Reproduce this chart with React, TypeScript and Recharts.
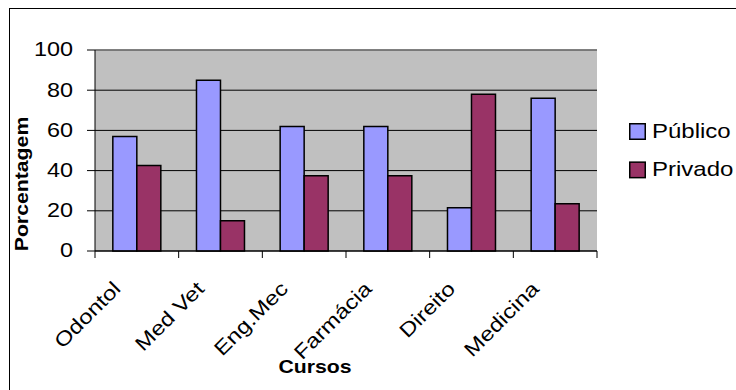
import React from "react";
import {
  BarChart,
  Bar,
  XAxis,
  YAxis,
  CartesianGrid,
  ReferenceLine,
  Legend,
  Label,
} from "recharts";

// Percentage of students by course and school origin
const CURSOS = ["Odontol", "Med Vet", "Eng.Mec", "Farmácia", "Direito", "Medicina"];
const PUBLICO = [57, 85, 62, 62, 21.5, 76];
const PRIVADO = [42.5, 15, 37.5, 37.5, 78, 23.5];
const Y_TICKS = [0, 20, 40, 60, 80, 100];

const SERIES = [
  { key: "publico", name: "Público", color: "#9999FF" },
  { key: "privado", name: "Privado", color: "#993366" },
];

const data = CURSOS.map((curso, i) => ({
  curso,
  publico: PUBLICO[i],
  privado: PRIVADO[i],
}));

const W = 736;
const H = 390;
const MARGIN = { top: 50, right: 139, bottom: 0, left: 0 };
const Y_AXIS_W = 95;
const X_AXIS_H = 139;
const PLOT_W = W - MARGIN.right - MARGIN.left - Y_AXIS_W;
const BAND = PLOT_W / CURSOS.length;

const FONT = "'Liberation Sans', Arial, sans-serif";
const WIDE = "scale(1.2,1)";

const YTick = (props: any) => {
  const { x, y, payload } = props;
  return (
    <text
      transform={`translate(${x},${y}) ${WIDE}`}
      textAnchor="end"
      dy="0.33em"
      fontSize={19.5}
      fontFamily={FONT}
      fill="#000"
    >
      {payload.value}
    </text>
  );
};

const XTick = (props: any) => {
  const { x, y, payload, index } = props;
  const left = x - BAND / 2;
  const right = x + BAND / 2;
  return (
    <g>
      <line x1={left} x2={left} y1={y} y2={y + 7} stroke="#000" />
      {index === CURSOS.length - 1 && (
        <line x1={right} x2={right} y1={y} y2={y + 7} stroke="#000" />
      )}
      <text
        transform={`translate(${x - 15},${y + 39}) rotate(-45) ${WIDE}`}
        textAnchor="end"
        fontSize={20}
        fontFamily={FONT}
        fill="#000"
      >
        {payload.value}
      </text>
    </g>
  );
};

const YTitle = () => (
  <text
    transform={`translate(28,184) rotate(-90) ${WIDE}`}
    textAnchor="middle"
    fontSize={17.7}
    fontWeight="bold"
    fontFamily={FONT}
    fill="#000"
  >
    Porcentagem
  </text>
);

const XTitle = () => (
  <text
    transform={`translate(315,372.5) ${WIDE}`}
    textAnchor="middle"
    fontSize={17.7}
    fontWeight="bold"
    fontFamily={FONT}
    fill="#000"
  >
    Cursos
  </text>
);

const LegendContent = () => (
  <svg width={110} height={70} style={{ overflow: "visible" }}>
    {SERIES.map((s, i) => (
      <g key={s.key} transform={`translate(0,${i * 38.4})`}>
        <rect x={0.75} y={0.75} width={15.5} height={15.5} fill={s.color} stroke="#000" strokeWidth={1.5} />
        <text
          transform={`translate(23,15) ${WIDE}`}
          fontSize={20}
          fontFamily={FONT}
          fill="#000"
        >
          {s.name}
        </text>
      </g>
    ))}
  </svg>
);

export default function App() {
  return (
    <div style={{ position: "absolute", left: 0, top: 0, width: W, height: H, background: "#fff", overflow: "hidden" }}>
      <div
        style={{
          position: "absolute",
          left: 8.5,
          top: 8,
          width: W + 20,
          height: H + 20,
          borderLeft: "1px solid #000",
          borderTop: "1px solid #000",
        }}
      />
      <BarChart
        width={W}
        height={H}
        data={data}
        margin={MARGIN}
        barCategoryGap="21.3%"
        barGap={0}
        style={{ position: "absolute", left: 0, top: 0 }}
      >
        <CartesianGrid vertical={false} stroke="#000" fill="#C0C0C0" fillOpacity={1} />
        <ReferenceLine y={100} stroke="#808080" strokeWidth={1.5} />
        <XAxis
          dataKey="curso"
          height={X_AXIS_H}
          interval={0}
          tickLine={false}
          tickSize={0}
          tickMargin={0}
          axisLine={{ stroke: "#000" }}
          tick={<XTick />}
        >
          <Label content={<XTitle />} />
        </XAxis>
        <YAxis
          width={Y_AXIS_W}
          domain={[0, 100]}
          ticks={Y_TICKS}
          tickSize={8}
          tickMargin={14}
          tickLine={{ stroke: "#000" }}
          axisLine={{ stroke: "#000" }}
          tick={<YTick />}
        >
          <Label content={<YTitle />} />
        </YAxis>
        <YAxis
          yAxisId="edge"
          orientation="right"
          width={0}
          domain={[0, 100]}
          tick={false}
          tickLine={false}
          axisLine={{ stroke: "#808080", strokeWidth: 1.5 }}
        />
        <Legend
          content={<LegendContent />}
          wrapperStyle={{ position: "absolute", left: 629, top: 123, width: 0, height: 0, overflow: "visible" }}
        />
        {SERIES.map((s) => (
          <Bar
            key={s.key}
            dataKey={s.key}
            name={s.name}
            fill={s.color}
            stroke="#000"
            strokeWidth={1.5}
            isAnimationActive={false}
          />
        ))}
      </BarChart>
    </div>
  );
}
